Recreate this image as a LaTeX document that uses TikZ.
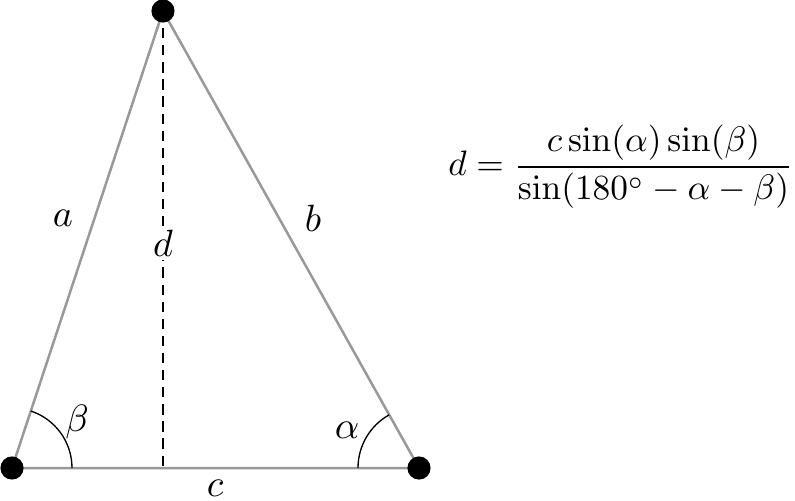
\documentclass[tikz,border=0pt]{standalone}
\usetikzlibrary{calc}
\begin{document}
\begin{tikzpicture}[x=0.2632pt,y=0.2632pt,
  side/.style={draw=black!40, line width=0.66pt},
  vtx/.style={circle, fill=black, inner sep=0pt, minimum size=6.1pt},
  height/.style={draw=black, line width=0.4pt, dash pattern=on 2.7pt off 1.8pt},
  anglearc/.style={draw=black, line width=0.35pt},
  lbl/.style={inner sep=1pt}]
\useasboundingbox (0,0) rectangle (795,500);
\coordinate (A) at (12,32);
\coordinate (B) at (419,32);
\coordinate (C) at (163,489);
\coordinate (F) at (163,32);
\draw[side] (A) -- (B) -- (C) -- cycle;
\draw[height] (C) -- (F);
\draw[anglearc] ($(A)+(60,0)$) arc[start angle=0, end angle=71.72, radius=15.8pt];
\draw[anglearc] ($(B)+(-61,0)$) arc[start angle=180, end angle=119.26, radius=16.05pt];
\node[vtx] (vA) at (A) {};
\node[vtx] (vB) at (B) {};
\node[vtx] (vC) at (C) {};
\node[lbl] (la) at (63,282) {$a$};
\node[lbl] (lb) at (313,282) {$b$};
\node[lbl, fill=white] (ld) at (163,257) {$d$};
\node[lbl] (lc) at (215,12) {$c$};
\node[lbl] (lbeta) at (77,78) {$\beta$};
\node[lbl] (lalpha) at (347,70) {$\alpha$};
\node[inner sep=0pt, scale=0.93, anchor=east] (formula) at (794,333) {$\displaystyle d=\frac{c\sin(\alpha)\sin(\beta)}{\sin(180^\circ-\alpha-\beta)}$};
\end{tikzpicture}
\end{document}
